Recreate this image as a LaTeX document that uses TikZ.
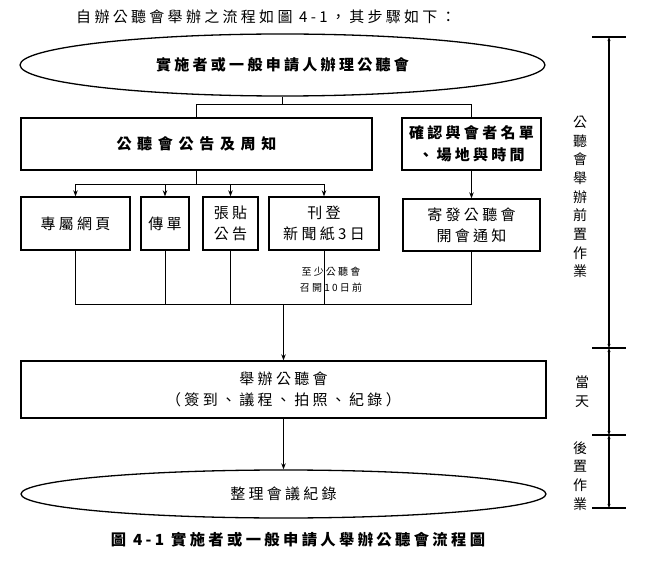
\documentclass[tikz,border=0pt]{standalone}
\usepackage{fontspec}
\setmainfont{Noto Sans CJK TC}[LetterSpace=22]
\usetikzlibrary{shapes.geometric,arrows.meta}

\tikzset{
 box/.style={draw,line width=1.3pt,inner sep=1pt,align=center,font=\fontsize{15}{21}\selectfont},
 oval/.style={box,ellipse},
 link/.style={line width=1pt},
 flow/.style={link,-{Stealth[length=6pt,width=4.5pt]}},
 span/.style={line width=1.2pt,{Stealth[length=4pt,width=3pt]}-{Stealth[length=4pt,width=3pt]}},
 stack/.style={align=center,inner sep=0pt,font=\fontsize{14}{18.7}\selectfont}
}

\begin{document}
\begin{tikzpicture}[x=1pt,y=-1pt]
 \useasboundingbox (0,0) rectangle (651,564);
 \node[font=\fontsize{15}{16}\selectfont] (intro) at (266,17) {自辦公聽會舉辦之流程如圖 4-1，其步驟如下：};

 % stage 1
 \node[oval,minimum width=525pt,minimum height=62pt,font=\fontsize{15}{16}\bfseries] (start) at (282.5,65) {實施者或一般申請人辦理公聽會};
 \node[box,minimum width=351pt,minimum height=52pt,font=\fontsize{15}{16}\bfseries\addfontfeature{LetterSpace=38}] (notice) at (196.5,144) {公聽會公告及周知};
 \node[box,minimum width=139pt,minimum height=52pt,font=\fontsize{15}{22}\bfseries] (confirm) at (471.5,144) {確認與會者名單\\、場地與時間};
 \node[box,minimum width=109pt,minimum height=53pt] (web) at (75.5,223.5) {專屬網頁};
 \node[box,minimum width=48pt,minimum height=53pt] (flyer) at (165,223.5) {傳單};
 \node[box,minimum width=55pt,minimum height=53pt] (poster) at (230.5,223.5) {張貼\\公告};
 \node[box,minimum width=110pt,minimum height=53pt] (paper) at (324,223.5) {刊登\\新聞紙3日};
 \node[box,minimum width=137pt,minimum height=52pt] (letter) at (471.5,225) {寄發公聽會\\開會通知};
 \node[align=center,inner sep=0pt,font=\fontsize{10}{16}\selectfont] (deadline) at (331,280) {至少公聽會\\召開10日前};

 % stage 2 and 3
 \node[box,minimum width=525pt,minimum height=57pt] (hold) at (283.5,389.5) {舉辦公聽會\\（簽到、議程、拍照、紀錄）};
 \node[oval,minimum width=525pt,minimum height=48pt] (finish) at (283.5,494) {整理會議紀錄};
 \node[font=\fontsize{15.3}{18}\bfseries] (caption) at (298,540) {圖 4-1 實施者或一般申請人舉辦公聽會流程圖};

 \coordinate (fork) at (282.5,105);
 \coordinate (merge) at (283.5,305);
 \draw[link] (start.south) -- (fork);
 \draw[link] (fork) -| (notice.north);
 \draw[link] (fork) -| (confirm.north);
 \foreach \n in {web,flyer,poster,paper}
  \draw[flow] (notice.south) -- ++(0,14) -| (\n.north);
 \draw[flow] (confirm.south) -- (letter.north);
 \foreach \n in {web,flyer,poster,paper,letter}
  \draw[link] (\n.south) |- (merge);
 \draw[flow] (merge) -- (hold.north);
 \draw[flow] (hold.south) -- (finish.north);

 % time line
 \coordinate (t0) at (609,37);
 \coordinate (t1) at (609,348);
 \coordinate (t2) at (609,435);
 \coordinate (t3) at (609,508);
 \foreach \y in {37,348,435,508}
  \draw[line width=1.5pt] (592,\y) -- (626,\y);
 \draw[span] (t0) -- (t1);
 \draw[span] (t1) -- (t2);
 \draw[span] (t2) -- (t3);
 \node[stack] (before) at (580,197) {公\\聽\\會\\舉\\辦\\前\\置\\作\\業};
 \node[stack] (sameday) at (582,392) {當\\天};
 \node[stack] (after) at (580,476) {後\\置\\作\\業};
\end{tikzpicture}
\end{document}
